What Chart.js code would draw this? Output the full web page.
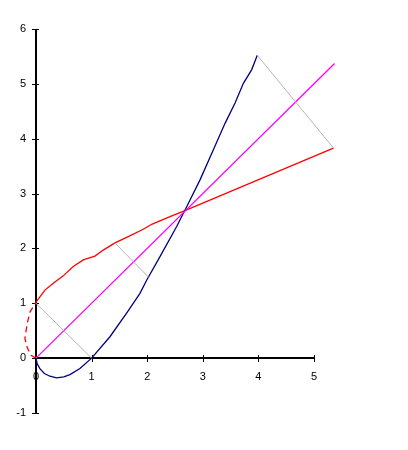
<!DOCTYPE html>
<html>
<head>
<meta charset="utf-8">
<script src="https://cdn.jsdelivr.net/npm/chart.js@4/dist/chart.umd.min.js"></script>
<style>
  html, body { margin: 0; padding: 0; background: #fff; }
  #wrap { width: 408px; height: 450px; }
</style>
</head>
<body>
<div id="wrap"><canvas id="myChart"></canvas></div>
<script>
// values
var blueX = [0, 0.02, 0.07, 0.15, 0.25, 0.37, 0.5, 0.61, 0.79, 1.0, 1.33, 1.63, 1.87, 1.99, 2.23, 2.53, 2.71, 2.95, 3.19, 3.40, 3.58, 3.73, 3.88, 3.98];
var blueY = [0, -0.1, -0.19, -0.28, -0.33, -0.36, -0.34, -0.30, -0.19, 0, 0.39, 0.82, 1.18, 1.42, 1.85, 2.40, 2.76, 3.25, 3.80, 4.28, 4.65, 5.01, 5.26, 5.52];

var redX = [0, -0.09, -0.16, -0.2, -0.16, -0.11, 0, 0.16, 0.34, 0.49, 0.67, 0.85, 1.06, 1.21, 1.42, 1.63, 1.93, 2.08, 2.41, 2.70, 5.35];
var redY = [0, 0.05, 0.2, 0.36, 0.62, 0.84, 1.02, 1.24, 1.39, 1.50, 1.67, 1.79, 1.86, 1.97, 2.10, 2.20, 2.35, 2.44, 2.58, 2.70, 3.83];

var diagX = [0, 5.37];
var diagY = [0, 5.37];

// grey connecting segments: [x1, y1, x2, y2]
var guides = [
    [0, 1, 1, 0],
    [1.41, 2.11, 2.03, 1.47],
    [3.98, 5.52, 5.35, 3.83]
];

var xTicks = [0, 1, 2, 3, 4, 5];
var yTicks = [-1, 0, 1, 2, 3, 4, 5, 6];

function pts(xs, ys) {
    return xs.map(function(x, i) { return { x: x, y: ys[i] }; });
}

var datasets = [];
guides.forEach(function(g) {
    datasets.push({
        data: [{ x: g[0], y: g[1] }, { x: g[2], y: g[3] }],
        borderColor: "#b4b4b4",
        borderWidth: 1
    });
});
datasets.push({
    data: pts(diagX, diagY),
    borderColor: "#ff00ff",
    borderWidth: 1.3
});
datasets.push({
    data: pts(blueX, blueY),
    borderColor: "#000080",
    borderWidth: 1.3
});
datasets.push({
    data: pts(redX, redY),
    borderColor: "#ff0000",
    borderWidth: 1.3,
    segment: {
        borderDash: function(c) { return c.p0DataIndex < 6 ? [6, 4] : undefined; }
    }
});
datasets.forEach(function(d) {
    d.showLine = true;
    d.pointRadius = 0;
    d.tension = 0;
    d.clip = false;
});

// axes crossing at zero, ticks through the line
var crossAxes = {
    id: "crossAxes",
    beforeDatasetsDraw: function(chart) {
        var c = chart.ctx;
        var xs = chart.scales.x, ys = chart.scales.y;
        var x0 = Math.round(xs.getPixelForValue(0));
        var y0 = Math.round(ys.getPixelForValue(0));
        c.save();
        c.strokeStyle = "#000";
        c.lineWidth = 2;
        c.beginPath();
        c.moveTo(x0, ys.getPixelForValue(yTicks[yTicks.length - 1]));
        c.lineTo(x0, ys.getPixelForValue(yTicks[0]));
        c.moveTo(x0, y0);
        c.lineTo(xs.getPixelForValue(xTicks[xTicks.length - 1]), y0);
        c.stroke();

        c.lineWidth = 1;
        c.beginPath();
        xTicks.forEach(function(v) {
            var px = Math.round(xs.getPixelForValue(v)) + 0.5;
            c.moveTo(px, y0 - 3);
            c.lineTo(px, y0 + 4);
        });
        yTicks.forEach(function(v) {
            var py = Math.round(ys.getPixelForValue(v)) + 0.5;
            c.moveTo(x0 - 4, py);
            c.lineTo(x0 + 3, py);
        });
        c.stroke();

        c.fillStyle = "#000";
        c.font = "11px 'Liberation Sans', Arial, sans-serif";
        c.textAlign = "center";
        c.textBaseline = "middle";
        xTicks.forEach(function(v) {
            c.fillText(String(v), xs.getPixelForValue(v), y0 + 19);
        });
        c.textAlign = "right";
        yTicks.forEach(function(v) {
            c.fillText(String(v), x0 - 10, ys.getPixelForValue(v));
        });
        c.restore();
    }
};

new Chart(document.getElementById("myChart"), {
    type: "scatter",
    data: { datasets: datasets },
    options: {
        responsive: true,
        maintainAspectRatio: false,
        animation: false,
        layout: {
            padding: { left: 36, right: 94, top: 29, bottom: 37 }
        },
        scales: {
            x: { type: "linear", min: 0, max: 5, display: false },
            y: { type: "linear", min: -1, max: 6, display: false }
        },
        plugins: {
            legend: { display: false },
            tooltip: { enabled: false }
        }
    },
    plugins: [crossAxes]
});
</script>
</body>
</html>
